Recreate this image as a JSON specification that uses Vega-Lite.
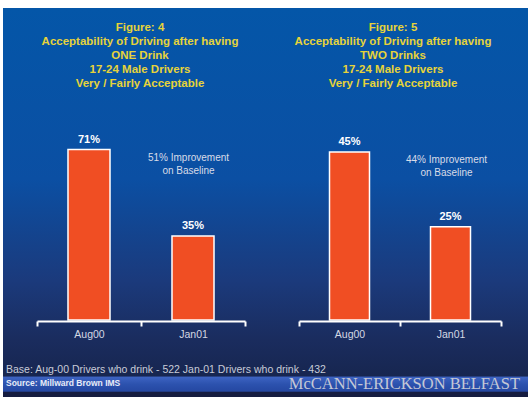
{
  "$schema": "https://vega.github.io/schema/vega-lite/v6.json",
  "width": 525,
  "height": 389,
  "padding": {"left": 3, "top": 8, "right": 0, "bottom": 0},
  "autosize": {"type": "none"},
  "background": "white",
  "config": {"view": {"stroke": null}, "font": "Liberation Sans", "axis": {"zindex": 2}},
  "title": {
    "text": "Base: Aug-00 Drivers who drink - 522 Jan-01 Drivers who drink - 432",
    "subtitle": "Source: Millward Brown IMS",
    "orient": "bottom",
    "anchor": "start",
    "frame": "group",
    "offset": -32,
    "dx": 3,
    "font": "Liberation Sans",
    "fontSize": 10.5,
    "fontWeight": "normal",
    "color": "#c8ccd8",
    "subtitleFont": "Liberation Sans",
    "subtitleFontSize": 8.5,
    "subtitleFontWeight": "bold",
    "subtitleColor": "#e8ecf8",
    "subtitlePadding": 3
  },
  "datasets": {
    "fig4": [{"period": "Aug00", "pct": 0.71}, {"period": "Jan01", "pct": 0.35, "note": "51% Improvement\non Baseline"}],
    "fig5": [{"period": "Aug00", "pct": 0.45}, {"period": "Jan01", "pct": 0.25, "note": "44% Improvement\non Baseline"}]
  },
  "layer": [
    {
      "data": {"values": [{}]},
      "mark": {
        "type": "rect",
        "fill": {
          "gradient": "linear", "x1": 0, "y1": 0, "x2": 0, "y2": 1,
          "stops": [
            {"offset": 0, "color": "#0456a8"},
            {"offset": 0.44, "color": "#0b4fa3"},
            {"offset": 0.7, "color": "#1b3a7c"},
            {"offset": 0.853, "color": "#1a2c5e"},
            {"offset": 0.946, "color": "#172650"},
            {"offset": 0.949, "color": "#3d63c2"},
            {"offset": 0.967, "color": "#2c52ae"},
            {"offset": 0.985, "color": "#2548a2"},
            {"offset": 0.988, "color": "#151c40"},
            {"offset": 1, "color": "#151c40"}
          ]
        }
      },
      "encoding": {}
    },
    {
      "data": {"values": [{"brand": "McCANN-ERICKSON BELFAST"}]},
      "mark": {"type": "text", "font": "Liberation Serif", "fontSize": 16.5, "color": "#c4c8d6", "align": "right", "baseline": "alphabetic", "dx": -8, "dy": -8},
      "encoding": {"text": {"field": "brand"}, "x": {"value": "width"}, "y": {"value": "height"}}
    },
    {
      "data": {"name": "fig4"},
      "encoding": {
        "x": {
          "field": "period", "type": "nominal", "sort": null,
          "scale": {"range": [34, 242], "paddingInner": 0, "paddingOuter": 0},
          "axis": {
            "orient": "bottom", "offset": -76, "labelAngle": 0, "zindex": 2,
            "domainColor": "white", "domainWidth": 2,
            "tickColor": "white", "tickWidth": 2, "tickSize": 5, "tickBand": "extent",
            "labelColor": "#d4d8e4", "labelFontSize": 10.5, "labelPadding": 3,
            "grid": false,
            "title": ["Figure: 4", "Acceptability of Driving after having", "ONE Drink", "17-24 Male Drivers", "Very / Fairly Acceptable"],
            "titleX": 136.5, "titleY": -291, "titleAlign": "center", "titleBaseline": "alphabetic",
            "titleColor": "#e6d33a", "titleFontSize": 11.5, "titleFontWeight": "bold", "titleLineHeight": 14.2
          }
        },
        "y": {"field": "pct", "type": "quantitative", "scale": {"domain": [0, 1.3], "range": [312, 0]}, "axis": null}
      },
      "layer": [
        {"mark": {"type": "bar", "width": {"band": 0.404}, "fill": "#f04e23", "stroke": "white", "strokeWidth": 1.5}},
        {"mark": {"type": "text", "baseline": "bottom", "dy": -5, "fontWeight": "bold", "fontSize": 11, "color": "white"}, "encoding": {"text": {"field": "pct", "format": ".0%"}}},
        {
          "transform": [{"filter": "isValid(datum.note)"}],
          "mark": {"type": "text", "lineBreak": "\n", "lineHeight": 13, "fontSize": 10, "color": "#d8dce8", "baseline": "middle", "dx": -4.5},
          "encoding": {"y": {"datum": 0.673, "type": "quantitative"}, "text": {"field": "note", "type": "nominal"}}
        }
      ]
    },
    {
      "data": {"name": "fig5"},
      "encoding": {
        "x": {
          "field": "period", "type": "nominal", "sort": null,
          "scale": {"range": [296, 498], "paddingInner": 0, "paddingOuter": 0},
          "axis": {
            "orient": "bottom", "offset": -76, "labelAngle": 0, "zindex": 2,
            "domainColor": "white", "domainWidth": 2,
            "tickColor": "white", "tickWidth": 2, "tickSize": 5, "tickBand": "extent",
            "labelColor": "#d4d8e4", "labelFontSize": 10.5, "labelPadding": 3,
            "grid": false,
            "title": ["Figure: 5", "Acceptability of Driving after having", "TWO Drinks", "17-24 Male Drivers", "Very / Fairly Acceptable"],
            "titleX": 389.5, "titleY": -291, "titleAlign": "center", "titleBaseline": "alphabetic",
            "titleColor": "#e6d33a", "titleFontSize": 11.5, "titleFontWeight": "bold", "titleLineHeight": 14.2
          }
        },
        "y": {"field": "pct", "type": "quantitative", "scale": {"domain": [0, 0.836], "range": [312, 0]}, "axis": null}
      },
      "layer": [
        {"mark": {"type": "bar", "width": {"band": 0.396}, "fill": "#f04e23", "stroke": "white", "strokeWidth": 1.5}},
        {"mark": {"type": "text", "baseline": "bottom", "dy": -5, "fontWeight": "bold", "fontSize": 11, "color": "white"}, "encoding": {"text": {"field": "pct", "format": ".0%"}}},
        {
          "transform": [{"filter": "isValid(datum.note)"}],
          "mark": {"type": "text", "lineBreak": "\n", "lineHeight": 13, "fontSize": 10, "color": "#d8dce8", "baseline": "middle", "dx": -4},
          "encoding": {"y": {"datum": 0.429, "type": "quantitative"}, "text": {"field": "note", "type": "nominal"}}
        }
      ]
    }
  ],
  "resolve": {
    "scale": {"x": "independent", "y": "independent"},
    "axis": {"x": "independent", "y": "independent"}
  }
}
